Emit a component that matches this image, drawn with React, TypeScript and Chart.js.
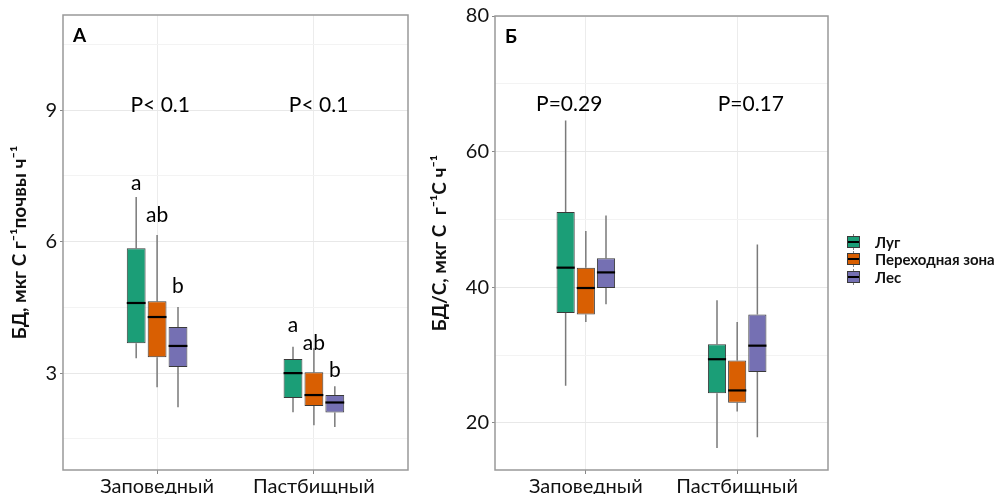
import React, { useEffect, useRef } from 'react';
import { Chart, registerables } from 'chart.js';

Chart.register(...registerables);

// ---------- data ----------
const categories = ['Заповедный', 'Пастбищный'];
const seriesNames = ['Луг', 'Переходная зона', 'Лес'];
const seriesColors = ['#1b9e77', '#d95f02', '#7570b3'];

// Panel A (БД): [min, q1, median, q3, max] for each category
const aLug = [[3.34, 3.68, 4.60, 5.85, 7.02], [2.11, 2.43, 3.00, 3.32, 3.60]];
const aPerekhod = [[2.68, 3.36, 4.28, 4.64, 6.15], [1.81, 2.25, 2.50, 3.02, 3.57]];
const aLes = [[2.22, 3.14, 3.62, 4.05, 4.51], [1.77, 2.10, 2.33, 2.50, 2.70]];
const aLetters = [['a', 'a'], ['ab', 'ab'], ['b', 'b']];
const aPLabels = ['P< 0.1', 'P< 0.1'];
const aMajorTicks = [3, 6, 9];
const aMinorTicks = [1.5, 4.5, 7.5, 10.5];

// Panel Б (БД/С): [min, q1, median, q3, max] for each category
const bLug = [[25.5, 36.2, 42.9, 51.1, 64.6], [16.3, 24.4, 29.4, 31.6, 38.1]];
const bPerekhod = [[34.9, 36.0, 39.9, 42.9, 48.3], [21.7, 23.0, 24.8, 29.2, 34.9]];
const bLes = [[37.5, 39.9, 42.2, 44.3, 50.6], [17.9, 27.5, 31.4, 36.0, 46.3]];
const bPLabels = ['P=0.29', 'P=0.17'];
const bMajorTicks = [20, 40, 60, 80];
const bMinorTicks = [30, 50, 70];

// ---------- annotation placement (value space) ----------
const aLetterY = [[7.18, 3.94], [6.45, 3.53], [4.83, 2.91]];
const aPX = [1.02, 2.03];
const aPY = 9.12;
const bPX = [0.89, 2.09];
const bPY = 67.0;

const FONT = "Lato, 'Open Sans', 'DejaVu Sans', sans-serif";

type PanelCfg = {
  stats: number[][][];
  letters: string[][] | null;
  letterY: number[][] | null;
  pLabels: string[];
  pX: number[];
  pY: number;
  tag: string;
  yMin: number;
  yMax: number;
  major: number[];
  minor: number[];
  yTitle: string;
  yWidth: number;
  padTop: number;
  padRight: number;
};

function makeChart(canvas: HTMLCanvasElement, cfg: PanelCfg) {
  const datasets = seriesNames.map((name, i) => ({
    label: name,
    data: cfg.stats[i].map((s, j) => ({ x: j + 1, y: [s[1], s[3]] })),
    backgroundColor: seriesColors[i],
    borderColor: '#3a3a3a',
    borderWidth: 1,
    borderSkipped: false,
    categoryPercentage: 0.4,
    barPercentage: 0.9,
  }));

  const plugin = {
    id: 'boxAnno',
    beforeDatasetsDraw(chart: any) {
      const ctx = chart.ctx;
      const y = chart.scales.y;
      ctx.save();
      ctx.strokeStyle = '#7a7a7a';
      ctx.lineWidth = 1.5;
      chart.data.datasets.forEach((_ds: any, i: number) => {
        chart.getDatasetMeta(i).data.forEach((el: any, j: number) => {
          const s = cfg.stats[i][j];
          ctx.beginPath();
          ctx.moveTo(el.x, y.getPixelForValue(s[0]));
          ctx.lineTo(el.x, y.getPixelForValue(s[1]));
          ctx.moveTo(el.x, y.getPixelForValue(s[3]));
          ctx.lineTo(el.x, y.getPixelForValue(s[4]));
          ctx.stroke();
        });
      });
      ctx.restore();
    },
    afterDatasetsDraw(chart: any) {
      const ctx = chart.ctx;
      const y = chart.scales.y;
      const x = chart.scales.x;
      const area = chart.chartArea;
      ctx.save();
      // medians
      ctx.strokeStyle = '#000';
      ctx.lineWidth = 2.2;
      chart.data.datasets.forEach((_ds: any, i: number) => {
        chart.getDatasetMeta(i).data.forEach((el: any, j: number) => {
          const s = cfg.stats[i][j];
          const py = y.getPixelForValue(s[2]);
          ctx.beginPath();
          ctx.moveTo(el.x - el.width / 2, py);
          ctx.lineTo(el.x + el.width / 2, py);
          ctx.stroke();
        });
      });
      // letters
      ctx.fillStyle = '#000';
      ctx.textAlign = 'center';
      ctx.textBaseline = 'alphabetic';
      ctx.font = `21px ${FONT}`;
      if (cfg.letters && cfg.letterY) {
        chart.data.datasets.forEach((_ds: any, i: number) => {
          chart.getDatasetMeta(i).data.forEach((el: any, j: number) => {
            ctx.fillText(cfg.letters![i][j], el.x, y.getPixelForValue(cfg.letterY![i][j]));
          });
        });
      }
      // P labels
      ctx.textBaseline = 'middle';
      cfg.pLabels.forEach((t, j) => {
        ctx.fillText(t, x.getPixelForValue(cfg.pX[j]), y.getPixelForValue(cfg.pY));
      });
      // panel tag
      ctx.textAlign = 'left';
      ctx.textBaseline = 'alphabetic';
      ctx.font = `bold 19px ${FONT}`;
      ctx.fillText(cfg.tag, area.left + 10, area.top + 27);
      // panel border
      ctx.strokeStyle = '#999';
      ctx.lineWidth = 1.5;
      ctx.strokeRect(area.left, area.top, area.right - area.left, area.bottom - area.top);
      ctx.restore();
    },
  };

  const isMajor = (v: number) => cfg.major.includes(v);

  return new Chart(canvas, {
    type: 'bar',
    data: { datasets: datasets as any },
    plugins: [plugin as any],
    options: {
      animation: false,
      responsive: false,
      events: [],
      layout: { padding: { left: 0, top: cfg.padTop, right: cfg.padRight, bottom: 0 } },
      plugins: { legend: { display: false }, tooltip: { enabled: false } },
      scales: {
        x: {
          type: 'linear',
          min: 0.4,
          max: 2.6,
          offset: false,
          afterBuildTicks: (s: any) => {
            s.ticks = categories.map((_c, j) => ({ value: j + 1 }));
          },
          afterFit: (s: any) => {
            s.height = 24;
          },
          ticks: {
            autoSkip: false,
            maxRotation: 0,
            padding: 1,
            color: '#111',
            font: { family: FONT, size: 20 },
            callback: (v: any) => categories[Math.round(Number(v)) - 1] ?? '',
          },
          grid: { offset: false, color: '#ececec', lineWidth: 1, tickLength: 4, tickColor: '#888' },
          border: { display: false },
        },
        y: {
          type: 'linear',
          min: cfg.yMin,
          max: cfg.yMax,
          afterBuildTicks: (s: any) => {
            s.ticks = [...cfg.major, ...cfg.minor].sort((a, b) => a - b).map((v) => ({ value: v }));
          },
          afterFit: (s: any) => {
            s.width = cfg.yWidth;
          },
          ticks: {
            autoSkip: false,
            padding: 3,
            color: '#111',
            font: { family: FONT, size: 20 },
            callback: (v: any) => (isMajor(Number(v)) ? String(v) : ''),
          },
          grid: {
            color: (c: any) => (c.tick && isMajor(c.tick.value) ? '#e8e8e8' : '#f3f3f3'),
            lineWidth: 1,
            tickLength: 3,
            tickColor: (c: any) => (c.tick && isMajor(c.tick.value) ? '#888' : 'rgba(0,0,0,0)'),
          },
          border: { display: false },
          title: {
            display: true,
            text: cfg.yTitle,
            color: '#111',
            font: { family: FONT, size: 19, weight: 'bold' },
            padding: { top: 8, bottom: 0 },
          },
        },
      },
    } as any,
  });
}

function LegendKey({ color }: { color: string }) {
  return (
    <div style={{ position: 'relative', width: 13, height: 16 }}>
      <div style={{ position: 'absolute', left: 6, top: 0, width: 1, height: 16, background: '#808080' }} />
      <div
        style={{
          position: 'absolute',
          left: 0,
          top: 2,
          width: 11,
          height: 10,
          background: color,
          border: '1px solid #3a3a3a',
        }}
      />
      <div style={{ position: 'absolute', left: 1, top: 7, width: 11, height: 2, background: '#000' }} />
    </div>
  );
}

export default function App() {
  const refA = useRef<HTMLCanvasElement>(null);
  const refB = useRef<HTMLCanvasElement>(null);

  useEffect(() => {
    const chartA = makeChart(refA.current!, {
      stats: [aLug, aPerekhod, aLes],
      letters: aLetters,
      letterY: aLetterY,
      pLabels: aPLabels,
      pX: aPX,
      pY: aPY,
      tag: 'А',
      yMin: 0.79,
      yMax: 11.17,
      major: aMajorTicks,
      minor: aMinorTicks,
      yTitle: 'БД, мкг С г⁻¹почвы ч⁻¹',
      yWidth: 63,
      padTop: 15,
      padRight: 12,
    });
    const chartB = makeChart(refB.current!, {
      stats: [bLug, bPerekhod, bLes],
      letters: null,
      letterY: null,
      pLabels: bPLabels,
      pX: bPX,
      pY: bPY,
      tag: 'Б',
      yMin: 13.07,
      yMax: 80,
      major: bMajorTicks,
      minor: bMinorTicks,
      yTitle: 'БД/С, мкг С  г⁻¹С ч⁻¹',
      yWidth: 75,
      padTop: 16,
      padRight: 166,
    });
    return () => {
      chartA.destroy();
      chartB.destroy();
    };
  }, []);

  return (
    <div style={{ position: 'absolute', left: 0, top: 0, width: 994, height: 494, background: '#fff', overflow: 'hidden' }}>
      <canvas ref={refA} width={420} height={494} style={{ position: 'absolute', left: 0, top: 0, width: 420, height: 494 }} />
      <canvas ref={refB} width={574} height={494} style={{ position: 'absolute', left: 420, top: 0, width: 574, height: 494 }} />
      <div style={{ position: 'absolute', left: 847, top: 233, fontFamily: FONT, fontWeight: 'bold', fontSize: 15, color: '#111' }}>
        {seriesNames.map((name, i) => (
          <div key={name} style={{ display: 'flex', alignItems: 'center', height: 17.5 }}>
            <LegendKey color={seriesColors[i]} />
            <span style={{ marginLeft: 15, whiteSpace: 'nowrap' }}>{name}</span>
          </div>
        ))}
      </div>
    </div>
  );
}
